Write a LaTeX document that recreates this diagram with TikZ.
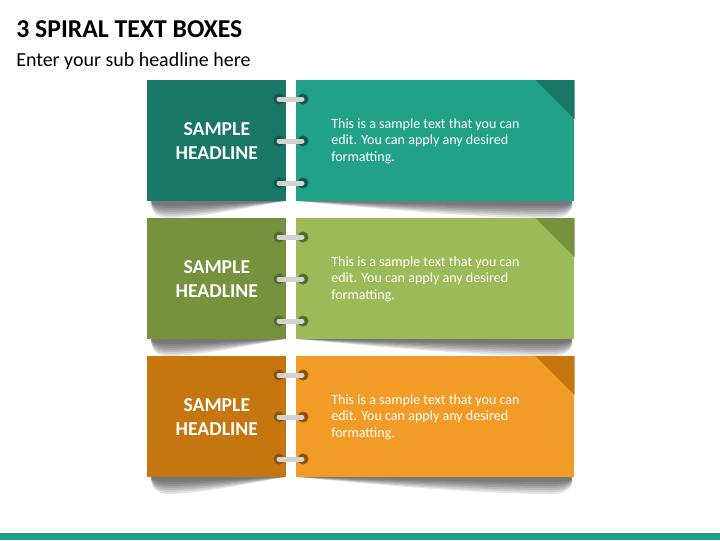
\documentclass[tikz,border=0pt]{standalone}
\usepackage{fontspec}
\setmainfont{Carlito}
\usetikzlibrary{positioning,calc}
\definecolor{tealdark}{RGB}{24,120,101}
\definecolor{teallight}{RGB}{33,162,136}
\definecolor{tealring}{RGB}{17,88,74}
\definecolor{greendark}{RGB}{118,146,60}
\definecolor{greenlight}{RGB}{155,187,89}
\definecolor{greenring}{RGB}{84,106,42}
\definecolor{orangedark}{RGB}{197,118,15}
\definecolor{orangelight}{RGB}{242,155,39}
\definecolor{orangering}{RGB}{138,82,10}

\begin{document}
\begin{tikzpicture}[x=0.025cm,y=-0.025cm,
    headbox/.style={rectangle,anchor=north west,minimum width=3.475cm,minimum height=3.025cm,inner sep=0pt},
    sidebox/.style={rectangle,anchor=north west,minimum width=6.95cm,minimum height=3.025cm,inner sep=0pt},
    headtext/.style={text=white,align=center,font=\bfseries\fontsize{14}{17}\selectfont},
    bodytext/.style={text=white,align=left,anchor=west,inner sep=0pt,font=\fontsize{10}{11.8}\selectfont},
    shadowlayer/.style={black,opacity=0.1},
    ringbar/.style={gray!35,line width=0.125cm,line cap=round}]
    \useasboundingbox (0,0) rectangle (720,540);

    % title
    \node[anchor=base west,inner sep=0pt] (title) at (16,37) {\bfseries\fontsize{18.3}{21}\selectfont 3 SPIRAL TEXT BOXES};
    \node[anchor=base west,inner sep=0pt] (subtitle) at (16,66) {\fontsize{14.2}{17}\selectfont Enter your sub headline here};

    \foreach \y/\lcol/\rcol/\gcol/\n in {80/tealdark/teallight/tealring/a,
                                   218/greendark/greenlight/greenring/b,
                                   356/orangedark/orangelight/orangering/c} {
        % shadows (layered for a soft edge)
        \foreach \d in {17,15,13,11,9,7,5} {
            \fill[shadowlayer] (151,\y+121) -- (285,\y+121)
                .. controls (255,\y+121+0.3*\d) and (200,\y+121+\d) .. (168,\y+121+\d)
                .. controls (156,\y+121+\d) and (151,\y+121+0.6*\d) .. cycle;
            \fill[shadowlayer] (298,\y+121) -- (572,\y+121)
                .. controls (574,\y+121+0.6*\d) and (566,\y+121+\d) .. (552,\y+121+\d)
                .. controls (470,\y+121+\d) and (350,\y+121+0.3*\d) .. cycle;
        }

        % boxes
        \node[headbox,fill=\lcol] (head-\n) at (147,\y) {};
        \node[sidebox,fill=\rcol] (side-\n) at (296,\y) {};
        \fill[\lcol] (side-\n.north east) -- ++(-39,0) -- ($(side-\n.north east)+(0,39)$) -- cycle;

        % texts
        \node[headtext] (headline-\n) at (head-\n.center) {SAMPLE\\HEADLINE};
        \node[bodytext] (body-\n) at (331,\y+61) {This is a sample text that you can\\edit. You can apply any desired\\formatting.};

        % rings
        \foreach \r in {19,61,103} {
            \fill[\gcol] (279,\y+\r) circle (5.5);
            \fill[\gcol] (303,\y+\r) circle (5.5);
            \draw[ringbar] (279,\y+\r) -- (302,\y+\r);
        }
    }

    % bottom bar
    \fill[teallight] (0,533) rectangle (720,540);
\end{tikzpicture}
\end{document}
